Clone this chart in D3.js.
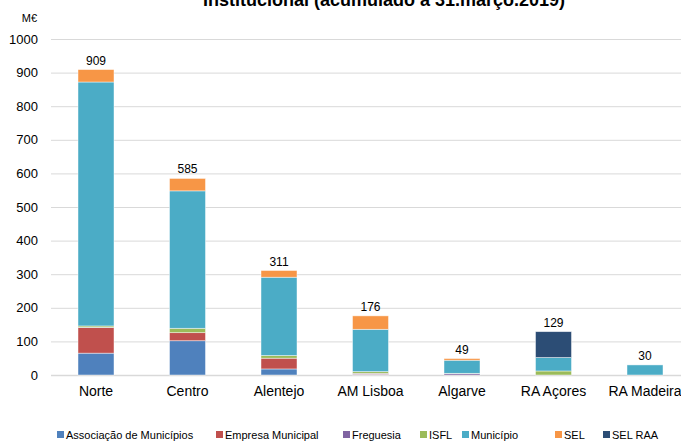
<!DOCTYPE html>
<html><head><meta charset="utf-8">
<script src="https://cdn.jsdelivr.net/npm/d3@7"></script>
<style>html,body{margin:0;padding:0;background:#fff;overflow:hidden}svg{display:block;font-family:Arial,"Liberation Sans",sans-serif}</style>
</head><body><svg id="c" width="681" height="441"></svg>
<script>
const categories = ["Norte","Centro","Alentejo","AM Lisboa","Algarve","RA Açores","RA Madeira"];
const seriesNames = ["Associação de Municípios","Empresa Municipal","Freguesia","ISFL","Município","SEL","SEL RAA"];
const associacao = [65, 102, 18, 0, 0, 0, 0];
const empresa    = [76, 24, 32, 2, 0, 0, 0];
const freguesia  = [1, 0, 0, 3, 4, 0, 0];
const isfl       = [4, 13, 8, 5, 1, 12, 0];
const municipio  = [726, 409, 233, 126, 39, 40, 30];
const sel        = [37, 37, 20, 40, 5, 0, 0];
const selRaa     = [0, 0, 0, 0, 0, 77, 0];
const yTicks = [0,100,200,300,400,500,600,700,800,900,1000];
const colors = ["#4F81BD","#C0504D","#8064A2","#9BBB59","#4BACC6","#F79646","#2C4D75"];

const seriesArr = [associacao, empresa, freguesia, isfl, municipio, sel, selRaa];
const rows = categories.map((c,i)=>{const r={cat:c}; seriesNames.forEach((s,j)=>r[s]=seriesArr[j][i]); return r;});
const stacked = d3.stack().keys(seriesNames)(rows);

const svg = d3.select("#c");
const x = d3.scaleBand().domain(categories).range([50.25, 690.75]).paddingInner(0.6066).paddingOuter(0.3033);
const y = d3.scaleLinear().domain([0,1000]).range([375, 39]);

// title (partly cut off at top, as in the reference)
svg.append("text").attr("x",384).attr("y",5.5).attr("text-anchor","middle")
  .attr("font-size",18).attr("font-weight","bold").attr("fill","#000")
  .text("Institucional (acumulado a 31.março.2019)");

// gridlines
svg.append("g").selectAll("line").data(yTicks).join("line")
  .attr("x1",51).attr("x2",681).attr("y1",d=>y(d)+0.5).attr("y2",d=>y(d)+0.5)
  .attr("stroke","#d9d9d9").attr("stroke-width",d=>d===0?1.5:1);

// y axis labels
svg.append("g").selectAll("text").data(yTicks).join("text")
  .attr("x",38).attr("y",d=>y(d)).attr("dy","0.35em").attr("text-anchor","end")
  .attr("font-size",13).attr("fill","#000").text(d=>d);
svg.append("text").attr("x",37).attr("y",18).attr("dy","0.35em").attr("text-anchor","end")
  .attr("font-size",11).attr("fill","#000").text("M€");

// bars
svg.append("g").selectAll("g").data(stacked).join("g")
  .attr("fill",(d,i)=>colors[i])
  .selectAll("rect").data(d=>d).join("rect")
  .attr("x",d=>x(d.data.cat)).attr("width",x.bandwidth())
  .attr("y",d=>y(d[1])).attr("height",d=>Math.max(0,y(d[0])-y(d[1])))
  .attr("stroke","#fff").attr("stroke-opacity",d=>(d[1]-d[0])>0?0.6:0).attr("stroke-width",0.75);

// totals
svg.append("g").selectAll("text").data(rows).join("text")
  .attr("x",d=>x(d.cat)+x.bandwidth()/2)
  .attr("y",d=>y(d3.sum(seriesNames,s=>d[s]))-5)
  .attr("text-anchor","middle").attr("font-size",12).attr("fill","#000")
  .text(d=>d3.sum(seriesNames,s=>d[s]));

// x labels
svg.append("g").selectAll("text").data(categories).join("text")
  .attr("x",d=>x(d)+x.bandwidth()/2).attr("y",396)
  .attr("text-anchor","middle").attr("font-size",14).attr("fill","#000").text(d=>d);

// legend
const legX = [57,216,343,420,462,555,603];
const lg = svg.append("g").selectAll("g").data(seriesNames).join("g")
  .attr("transform",(d,i)=>`translate(${legX[i]},0)`);
lg.append("rect").attr("x",0).attr("y",431).attr("width",7).attr("height",7).attr("fill",(d,i)=>colors[i]);
lg.append("text").attr("x",9).attr("y",438.5).attr("font-size",11).attr("fill","#000").text(d=>d);
</script></body></html>
